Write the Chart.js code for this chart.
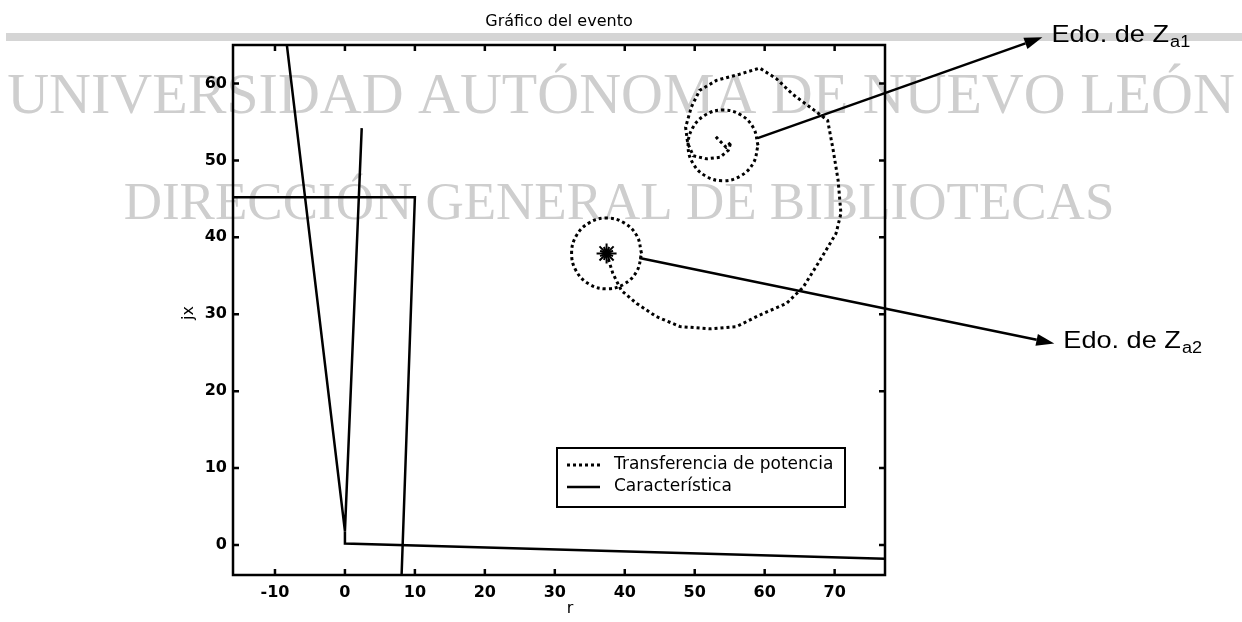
<!DOCTYPE html>
<html>
<head>
<meta charset="utf-8">
<title>Gráfico del evento</title>
<script src="https://cdn.jsdelivr.net/npm/chart.js@4.4.1/dist/chart.umd.min.js"></script>
<style>
  html, body { margin: 0; padding: 0; background: #fff; }
  canvas { display: block; }
</style>
</head>
<body>
<canvas id="eventChart" width="1242" height="622"></canvas>
<script>
// limites de los ejes (r, jx)
const xMin = -16, xMax = 77.2;
const yMin = -3.9, yMax = 65;

// trayectoria de la transferencia de potencia
const trajX = [37.4, 38.3, 39.5, 41.7, 44.5, 47.9, 52.1, 56.0, 59.3, 63.1, 65.5, 67.9, 70.2, 70.9, 70.5, 69.8, 69.0, 67.4, 64.0, 61.7, 59.3, 56.4, 53.1, 50.7, 49.5, 48.7, 49.0, 49.8, 51.7, 53.6, 54.8, 55.2, 54.5, 53.3, 52.9];
const trajY = [37.9, 35.3, 33.1, 31.4, 29.7, 28.4, 28.1, 28.4, 29.9, 31.4, 33.5, 37.0, 40.5, 43.1, 47.4, 51.3, 55.2, 56.3, 58.6, 60.6, 62.0, 61.2, 60.4, 59.1, 56.9, 54.3, 52.2, 50.6, 50.2, 50.4, 51.3, 52.4, 51.7, 52.8, 53.2];

// circulo alrededor de Za1
const za1X = [59.05, 58.38, 56.55, 54.05, 51.55, 49.72, 49.05, 49.72, 51.55, 54.05, 56.55, 58.38, 59.05];
const za1Y = [51.95, 54.25, 55.93, 56.55, 55.93, 54.25, 51.95, 49.65, 47.97, 47.35, 47.97, 49.65, 51.95];

// circulo alrededor de Za2
const za2X = [42.4, 41.73, 39.9, 37.4, 34.9, 33.07, 32.4, 33.07, 34.9, 37.4, 39.9, 41.73, 42.4];
const za2Y = [37.9, 40.2, 41.88, 42.5, 41.88, 40.2, 37.9, 35.6, 33.92, 33.3, 33.92, 35.6, 37.9];
const starX = [37.4];
const starY = [37.9];

// caracteristica del rele
const charVX = [2.4, 0, -8.3];
const charVY = [54.2, 1.8, 65];
const charBaseX = [0, 0, 77.2];
const charBaseY = [1.8, 0.2, -1.8];
const charRectX = [-16, 10.0, 8.1];
const charRectY = [45.2, 45.2, -3.9];

// flechas de anotacion
const arrowFromX = [59.0, 42.1];
const arrowFromY = [52.9, 37.3];
const arrowToX = [99.7, 101.4];
const arrowToY = [66.0, 26.2];
const arrowText = ['Edo. de Z', 'Edo. de Z'];
const arrowSub = ['a1', 'a2'];

const legendLabels = ['Transferencia de potencia', 'Característica'];
const watermark = ['UNIVERSIDAD AUTÓNOMA DE NUEVO LEÓN', 'DIRECCIÓN GENERAL DE BIBLIOTECAS'];

const toPoints = (xs, ys) => xs.map((x, i) => ({ x: x, y: ys[i] }));

const dotted = {
    borderColor: '#000',
    borderWidth: 3,
    borderDash: [3, 3],
    pointRadius: 0,
    showLine: true,
    fill: false
};
const solid = {
    borderColor: '#000',
    borderWidth: 2.5,
    pointRadius: 0,
    showLine: true,
    fill: false,
    tension: 0
};

const decor = {
    id: 'decor',
    beforeDraw(chart) {
        const c = chart.ctx;
        c.save();
        c.fillStyle = '#fff';
        c.fillRect(0, 0, chart.width, chart.height);
        c.fillStyle = '#d5d5d5';
        c.fillRect(6, 33, chart.width - 6, 8);
        c.fillStyle = '#cecece';
        c.textAlign = 'center';
        c.textBaseline = 'alphabetic';
        c.font = '58px "Liberation Serif"';
        c.fillText(watermark[0], 621, 113);
        c.font = '53px "Liberation Serif"';
        c.fillText(watermark[1], 619, 219);
        c.restore();
    },
    afterDatasetsDraw(chart) {
        const c = chart.ctx;
        const a = chart.chartArea;
        const xs = chart.scales.x;
        const ys = chart.scales.y;
        c.save();

        // marco y marcas interiores
        c.strokeStyle = '#000';
        c.lineWidth = 2.5;
        c.setLineDash([]);
        c.strokeRect(a.left, a.top, a.right - a.left, a.bottom - a.top);
        c.beginPath();
        xs.ticks.forEach(t => {
            const p = xs.getPixelForValue(t.value);
            c.moveTo(p, a.bottom); c.lineTo(p, a.bottom - 6);
            c.moveTo(p, a.top); c.lineTo(p, a.top + 6);
        });
        ys.ticks.forEach(t => {
            const p = ys.getPixelForValue(t.value);
            c.moveTo(a.left, p); c.lineTo(a.left + 6, p);
            c.moveTo(a.right, p); c.lineTo(a.right - 6, p);
        });
        c.stroke();

        // titulo y etiquetas de ejes
        c.fillStyle = '#000';
        c.textAlign = 'center';
        c.textBaseline = 'alphabetic';
        c.font = '16px "DejaVu Sans"';
        c.fillText('Gráfico del evento', (a.left + a.right) / 2, 26);
        c.font = '16px "DejaVu Sans"';
        c.fillText('r', 570, 613);
        c.save();
        c.translate(189, 313);
        c.rotate(-Math.PI / 2);
        c.textBaseline = 'middle';
        c.fillText('jx', 0, 0);
        c.restore();

        // leyenda
        c.fillStyle = '#fff';
        c.fillRect(557, 448, 288, 59);
        c.lineWidth = 2;
        c.strokeRect(557, 448, 288, 59);
        c.lineWidth = 3;
        c.setLineDash([3, 3]);
        c.beginPath(); c.moveTo(567, 465); c.lineTo(600, 465); c.stroke();
        c.setLineDash([]);
        c.lineWidth = 2.5;
        c.beginPath(); c.moveTo(567, 487); c.lineTo(600, 487); c.stroke();
        c.fillStyle = '#000';
        c.textAlign = 'left';
        c.textBaseline = 'middle';
        c.font = '17px "DejaVu Sans"';
        c.fillText(legendLabels[0], 614, 465);
        c.fillText(legendLabels[1], 614, 487);

        // flechas y textos
        for (let i = 0; i < arrowFromX.length; i++) {
            const x0 = xs.getPixelForValue(arrowFromX[i]);
            const y0 = ys.getPixelForValue(arrowFromY[i]);
            const x1 = xs.getPixelForValue(arrowToX[i]);
            const y1 = ys.getPixelForValue(arrowToY[i]);
            const ang = Math.atan2(y1 - y0, x1 - x0);
            const hl = 18, hw = 6;
            const bx = x1 - hl * Math.cos(ang);
            const by = y1 - hl * Math.sin(ang);
            c.lineWidth = 2.5;
            c.beginPath(); c.moveTo(x0, y0); c.lineTo(bx, by); c.stroke();
            c.beginPath();
            c.moveTo(x1, y1);
            c.lineTo(bx + hw * Math.sin(ang), by - hw * Math.cos(ang));
            c.lineTo(bx - hw * Math.sin(ang), by + hw * Math.cos(ang));
            c.closePath();
            c.fill();

            c.save();
            c.translate(x1 + 9, y1 + 5);
            c.scale(1.13, 1);
            c.textBaseline = 'alphabetic';
            c.font = '24px "Liberation Sans"';
            c.fillText(arrowText[i], 0, 0);
            const w = c.measureText(arrowText[i]).width;
            c.font = '16px "Liberation Sans"';
            c.fillText(arrowSub[i], w + 1, 5);
            c.restore();
        }
        c.restore();
    }
};

const ctx = document.getElementById('eventChart').getContext('2d');
const eventChart = new Chart(ctx, {
    type: 'scatter',
    data: {
        datasets: [
            Object.assign({ label: legendLabels[0], data: toPoints(trajX, trajY), tension: 0 }, dotted),
            Object.assign({ label: legendLabels[0], data: toPoints(za1X, za1Y), tension: 0.4 }, dotted),
            Object.assign({ label: legendLabels[0], data: toPoints(za2X, za2Y), tension: 0.4 }, dotted),
            {
                label: 'Za2', data: toPoints(starX, starY), showLine: false,
                pointStyle: 'star', pointRadius: 10, borderWidth: 2, borderColor: '#000', backgroundColor: '#000'
            },
            {
                label: 'Za2b', data: toPoints(starX, starY), showLine: false,
                pointStyle: 'star', pointRadius: 7, pointRotation: 22.5, borderWidth: 2, borderColor: '#000', backgroundColor: '#000'
            },
            Object.assign({ label: legendLabels[1], data: toPoints(charVX, charVY) }, solid),
            Object.assign({ label: legendLabels[1], data: toPoints(charBaseX, charBaseY) }, solid),
            Object.assign({ label: legendLabels[1], data: toPoints(charRectX, charRectY) }, solid)
        ]
    },
    options: {
        responsive: false,
        animation: false,
        layout: { padding: { top: 45, right: 357, left: 0, bottom: 0 } },
        plugins: {
            legend: { display: false },
            tooltip: { enabled: false },
            title: { display: false }
        },
        scales: {
            x: {
                type: 'linear',
                min: xMin,
                max: xMax,
                grid: { display: false, drawTicks: false },
                border: { display: false },
                ticks: {
                    stepSize: 10,
                    includeBounds: false,
                    maxRotation: 0,
                    padding: 8,
                    color: '#000',
                    font: { family: 'DejaVu Sans', size: 16, weight: 'bold' }
                },
                afterFit: s => { s.height = 47; }
            },
            y: {
                type: 'linear',
                min: yMin,
                max: yMax,
                grid: { display: false, drawTicks: false },
                border: { display: false },
                ticks: {
                    stepSize: 10,
                    includeBounds: false,
                    padding: 6,
                    color: '#000',
                    font: { family: 'DejaVu Sans', size: 16, weight: 'bold' }
                },
                afterFit: s => { s.width = 233; }
            }
        }
    },
    plugins: [decor]
});
</script>
</body>
</html>
